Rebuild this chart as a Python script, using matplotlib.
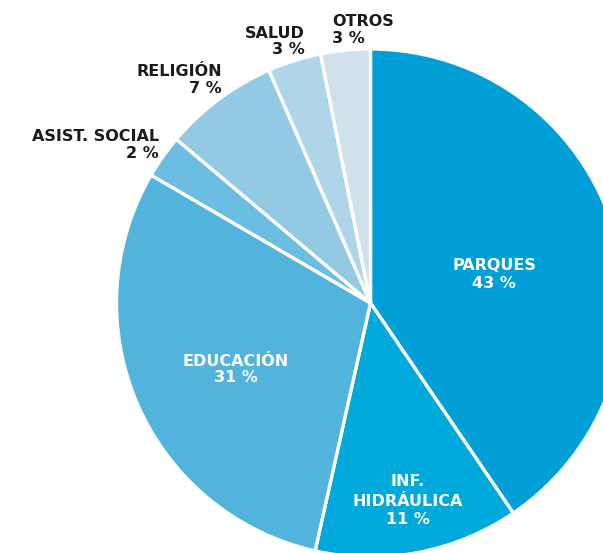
import matplotlib
matplotlib.use("Agg")
import matplotlib.pyplot as plt

categories = ["PARQUES", "INF.\nHIDRÁULICA", "EDUCACIÓN", "ASIST. SOCIAL", "RELIGIÓN", "SALUD", "OTROS"]
values = [40.5, 13.0, 29.9, 2.75, 7.3, 3.4, 3.15]
pct_labels = ["43 %", "11 %", "31 %", "2 %", "7 %", "3 %", "3 %"]
colors = ["#009fd8", "#00a9db", "#52b3dd", "#6bbde1", "#93c9e3", "#b1d5e8", "#cfe1ea"]

W, H = 603, 553
fig = plt.figure(figsize=(W / 100, H / 100), dpi=100)
ax = fig.add_axes([0, 0, 1, 1])

cx, cy, R = 370.5, H - 303, 254
ax.pie(values, colors=colors, startangle=90, counterclock=False,
       center=(cx, cy), radius=R,
       wedgeprops=dict(edgecolor="white", linewidth=2.4))
ax.set_xlim(0, W)
ax.set_ylim(0, H)
ax.set_aspect("equal")
ax.axis("off")

name_kw = dict(fontsize=11.5, family="DejaVu Sans", fontweight="semibold")
pct_kw = dict(fontsize=11.5, family="DejaVu Sans", fontweight="heavy")

def y(p):
    return H - p

# inside labels (white)
inside = {0: (494, 265, 283), 2: (236, 361, 378)}
for i, (x, yn, yp) in inside.items():
    ax.text(x, y(yn), categories[i], color="white", ha="center", va="center", **name_kw)
    ax.text(x, y(yp), pct_labels[i], color="white", ha="center", va="center", **pct_kw)

# INF. HIDRÁULICA
n1, n2 = categories[1].split("\n")
ax.text(408, y(482), n1, color="white", ha="center", va="center", **name_kw)
ax.text(408, y(501.5), n2, color="white", ha="center", va="center", **name_kw)
ax.text(408, y(519), pct_labels[1], color="white", ha="center", va="center", **pct_kw)

# outside labels
dark = "#1a1a1a"
outside = {
    3: (159, 136.5, 153.5, "right"),
    4: (222, 71.5, 88.5, "right"),
    5: (305, 33.5, 50, "right"),
    6: (332, 21, 38.5, "left"),
}
for i, (x, yn, yp, ha) in outside.items():
    ax.text(x, y(yn), categories[i], color=dark, ha=ha, va="center", **name_kw)
    ax.text(x, y(yp), pct_labels[i], color=dark, ha=ha, va="center", **pct_kw)

fig.savefig("out.png", dpi=100)
